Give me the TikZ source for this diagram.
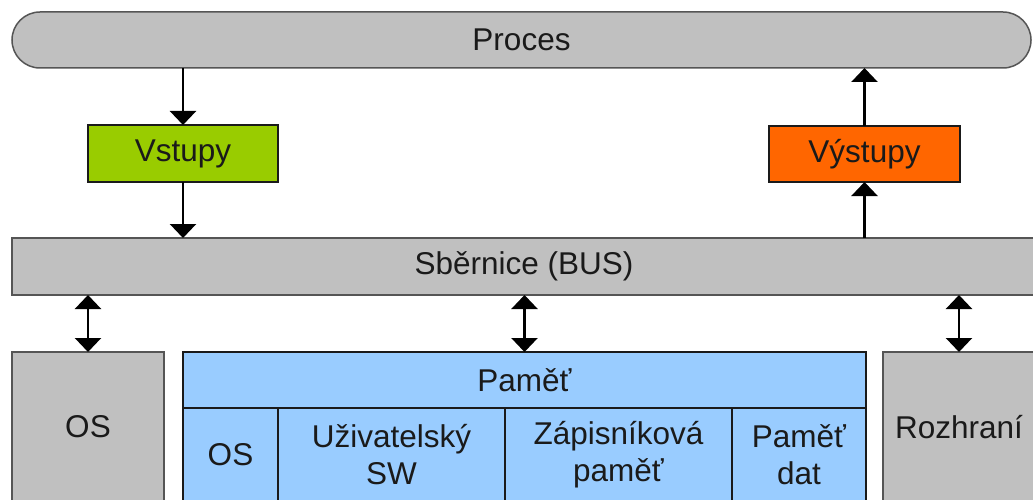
\documentclass[tikz,border=0pt]{standalone}
\usepackage{fontspec}
\setmainfont{Liberation Sans}
\usetikzlibrary{arrows.meta}
\usetikzlibrary{positioning}
\definecolor{fg}{HTML}{1A1A1A}
\definecolor{sediva}{HTML}{C0C0C0}
\definecolor{ramec}{HTML}{555555}
\definecolor{zelena}{HTML}{99CC00}
\definecolor{oranzova}{HTML}{FF6600}
\definecolor{modra}{HTML}{99CCFF}
\tikzstyle{box}=[draw=ramec, line width=1.5pt, fill=sediva, inner sep=0pt, outer sep=0pt,
anchor=north west, align=center, text=fg, font=\fontsize{31.5}{37}\selectfont]
\tikzstyle{myarrow}=[-{Triangle[width=26pt,length=14pt]}, line width=2.5pt]
\tikzstyle{dblarrow}=[myarrow, {Triangle[width=26pt,length=14pt]}-{Triangle[width=26pt,length=14pt]}]
\tikzstyle{vstup}=[box, fill=zelena, draw=fg]
\tikzstyle{vystup}=[box, fill=oranzova, draw=fg]
\tikzstyle{pamet}=[box, fill=modra, draw=fg]

\begin{document}
\begin{tikzpicture}[x=1pt, y=-1pt]
    \useasboundingbox (0,0) rectangle (1033,500);
    \clip (0,0) rectangle (1033,500);

    \node[box, rounded corners=28pt, minimum width=1019pt, minimum height=56pt] (proces) at (12,12) {Proces};

    \node[vstup, minimum width=190pt, minimum height=57pt] (vstupy) at (88,125) {Vstupy};
    \node[vystup, minimum width=191pt, minimum height=56pt] (vystupy) at (769,126) {Výstupy};

    \node[box, minimum width=1024pt, minimum height=57pt] (bus) at (12,238) {Sběrnice (BUS)};

    \draw[myarrow] (proces.south -| vstupy.north) -- (vstupy.north);
    \draw[myarrow] (vstupy.south) -- (vstupy.south |- bus.north);
    \draw[myarrow] (bus.north -| vystupy.south) -- (vystupy.south);
    \draw[myarrow] (vystupy.north) -- (vystupy.north |- proces.south);

    % spodni bloky
    \node[box, minimum width=152pt, minimum height=150pt] (os) at (12,352) {OS};
    \node[pamet, minimum width=683pt, minimum height=56pt] (pamet) at (183,352) {Paměť};
    \node[pamet, minimum width=95pt, minimum height=94pt] (osp) at (183,408) {OS};
    \node[pamet, minimum width=227pt, minimum height=94pt] (uziv) at (278,408) {Uživatelský\\SW};
    \node[pamet, minimum width=227pt, minimum height=94pt] (zapis) at (505,408) {Zápisníková\\paměť};
    \node[pamet, minimum width=134pt, minimum height=94pt] (data) at (732,408) {Paměť\\dat};
    \node[box, minimum width=152pt, minimum height=150pt] (rozhrani) at (883,352) {Rozhraní};

    \draw[dblarrow] (bus.south -| os.north) -- (os.north);
    \draw[dblarrow] (bus.south -| pamet.north) -- (pamet.north);
    \draw[dblarrow] (bus.south -| rozhrani.north) -- (rozhrani.north);
\end{tikzpicture}
\end{document}
